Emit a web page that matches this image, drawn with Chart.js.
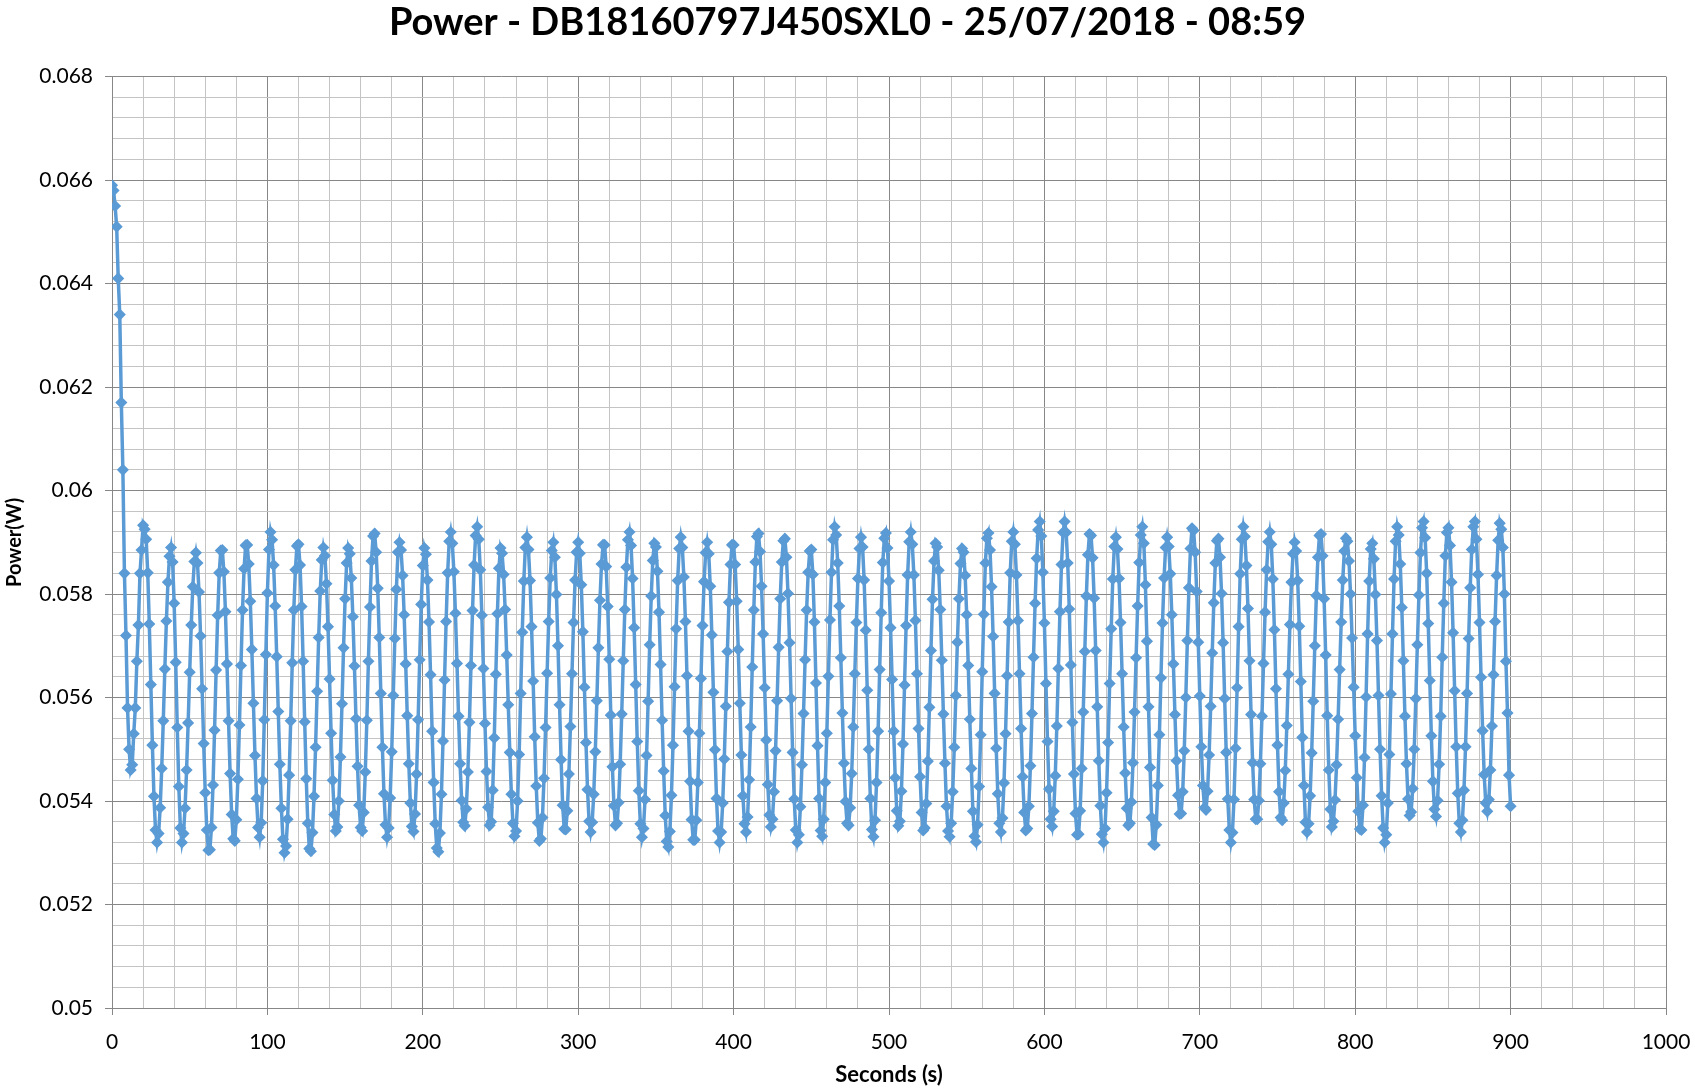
<!DOCTYPE html>
<html><head><meta charset="utf-8">
<script src="https://cdn.jsdelivr.net/npm/chart.js@4/dist/chart.umd.min.js"></script>
<style>html,body{margin:0;padding:0;background:#fff;}canvas{display:block;}</style>
</head><body>
<canvas id="c" width="1695" height="1091"></canvas>
<script>
const chartTitle = 'Power - DB18160797J450SXL0 - 25/07/2018 - 08:59';
const xAxisTitle = 'Seconds (s)';
const yAxisTitle = 'Power(W)';
const xTickLabels = [0, 100, 200, 300, 400, 500, 600, 700, 800, 900, 1000];
const yTickLabels = [0.05, 0.052, 0.054, 0.056, 0.058, 0.06, 0.062, 0.064, 0.066, 0.068];
const sampleStartS = 0;
const sampleStepS = 1;
const powerW = [
0.06590,0.06580,0.06550,0.06510,0.06410,0.06340,0.06170,0.06040,0.05840,0.05720,0.05580,0.05500,0.05460,
0.05470,0.05530,0.05580,0.05670,0.05740,0.05840,0.05885,0.05933,0.05925,
0.05906,0.05841,0.05742,0.05625,0.05508,0.05409,0.05344,0.05320,
0.05337,0.05387,0.05463,0.05555,0.05655,0.05748,0.05823,0.05873,0.05890,
0.05862,0.05782,0.05668,0.05542,0.05428,0.05348,0.05320,
0.05337,0.05386,0.05460,0.05551,0.05649,0.05740,0.05814,0.05863,0.05880,
0.05860,0.05804,0.05719,0.05617,0.05511,0.05416,0.05344,0.05305,
0.05306,0.05349,0.05431,0.05537,0.05653,0.05759,0.05841,0.05884,
0.05885,0.05843,0.05766,0.05665,0.05555,0.05453,0.05374,0.05327,
0.05323,0.05364,0.05442,0.05547,0.05662,0.05769,0.05849,0.05894,
0.05895,0.05858,0.05786,0.05693,0.05589,0.05488,0.05405,0.05349,0.05330,
0.05358,0.05439,0.05557,0.05683,0.05802,0.05886,0.05920,
0.05905,0.05856,0.05777,0.05679,0.05573,0.05471,0.05386,0.05326,0.05300,
0.05313,0.05365,0.05450,0.05555,0.05667,0.05769,0.05847,0.05893,
0.05896,0.05856,0.05776,0.05670,0.05553,0.05443,0.05357,0.05308,
0.05303,0.05339,0.05409,0.05504,0.05612,0.05716,0.05806,0.05866,0.05890,
0.05874,0.05820,0.05737,0.05636,0.05531,0.05440,0.05374,0.05342,
0.05350,0.05400,0.05485,0.05588,0.05696,0.05791,0.05860,0.05889,
0.05878,0.05831,0.05756,0.05661,0.05559,0.05467,0.05392,0.05349,
0.05342,0.05378,0.05456,0.05556,0.05670,0.05775,0.05864,0.05912,
0.05917,0.05881,0.05811,0.05716,0.05608,0.05504,0.05414,0.05354,0.05330,
0.05348,0.05406,0.05495,0.05604,0.05714,0.05809,0.05881,0.05900,
0.05885,0.05836,0.05760,0.05665,0.05565,0.05472,0.05396,0.05351,
0.05341,0.05375,0.05452,0.05557,0.05673,0.05780,0.05855,0.05889,
0.05877,0.05827,0.05746,0.05644,0.05535,0.05436,0.05356,0.05309,
0.05302,0.05338,0.05413,0.05516,0.05634,0.05747,0.05841,0.05902,0.05920,
0.05898,0.05843,0.05763,0.05666,0.05564,0.05472,0.05401,0.05359,
0.05352,0.05385,0.05456,0.05552,0.05662,0.05768,0.05856,0.05913,0.05930,
0.05906,0.05847,0.05759,0.05656,0.05550,0.05457,0.05388,0.05353,
0.05360,0.05421,0.05522,0.05645,0.05762,0.05850,0.05889,
0.05879,0.05838,0.05770,0.05682,0.05586,0.05494,0.05413,0.05357,0.05332,
0.05342,0.05400,0.05490,0.05608,0.05726,0.05825,0.05890,0.05910,
0.05886,0.05826,0.05737,0.05632,0.05524,0.05429,0.05358,0.05323,
0.05327,0.05368,0.05444,0.05542,0.05647,0.05747,0.05831,0.05884,0.05900,
0.05871,0.05799,0.05700,0.05586,0.05480,0.05392,0.05346,
0.05345,0.05381,0.05452,0.05544,0.05646,0.05745,0.05827,0.05881,0.05900,
0.05879,0.05818,0.05727,0.05620,0.05513,0.05422,0.05361,0.05340,
0.05359,0.05413,0.05495,0.05594,0.05696,0.05788,0.05858,0.05895,
0.05895,0.05853,0.05776,0.05674,0.05566,0.05466,0.05391,0.05353,
0.05357,0.05397,0.05471,0.05568,0.05671,0.05770,0.05852,0.05905,0.05920,
0.05894,0.05830,0.05735,0.05625,0.05515,0.05420,0.05356,0.05330,
0.05347,0.05403,0.05488,0.05593,0.05702,0.05796,0.05865,0.05898,
0.05891,0.05844,0.05765,0.05664,0.05556,0.05458,0.05372,0.05322,
0.05311,0.05341,0.05411,0.05508,0.05621,0.05733,0.05826,0.05888,0.05910,
0.05890,0.05833,0.05747,0.05642,0.05535,0.05438,0.05364,0.05325,
0.05325,0.05363,0.05436,0.05531,0.05637,0.05739,0.05824,0.05880,0.05900,
0.05878,0.05815,0.05721,0.05610,0.05499,0.05405,0.05342,0.05320,
0.05340,0.05396,0.05481,0.05583,0.05689,0.05784,0.05857,0.05895,
0.05895,0.05857,0.05786,0.05693,0.05589,0.05489,0.05410,0.05356,
0.05340,0.05369,0.05441,0.05543,0.05659,0.05769,0.05862,0.05911,
0.05917,0.05882,0.05815,0.05723,0.05619,0.05518,0.05432,0.05373,0.05350,
0.05365,0.05418,0.05497,0.05594,0.05697,0.05791,0.05862,0.05903,
0.05907,0.05871,0.05801,0.05706,0.05598,0.05494,0.05404,0.05344,0.05320,
0.05335,0.05389,0.05470,0.05569,0.05673,0.05769,0.05842,0.05883,
0.05886,0.05838,0.05746,0.05628,0.05507,0.05405,0.05343,
0.05332,0.05365,0.05436,0.05531,0.05641,0.05750,0.05842,0.05905,0.05930,
0.05914,0.05860,0.05777,0.05677,0.05570,0.05473,0.05399,0.05357,
0.05353,0.05387,0.05453,0.05543,0.05646,0.05745,0.05830,0.05888,0.05910,
0.05891,0.05827,0.05730,0.05614,0.05500,0.05405,0.05345,
0.05331,0.05363,0.05436,0.05535,0.05654,0.05764,0.05861,0.05908,
0.05918,0.05889,0.05825,0.05735,0.05635,0.05535,0.05445,0.05381,0.05352,
0.05361,0.05419,0.05510,0.05624,0.05739,0.05837,0.05901,0.05920,
0.05896,0.05837,0.05749,0.05646,0.05540,0.05447,0.05378,0.05343,
0.05348,0.05395,0.05477,0.05581,0.05691,0.05790,0.05864,0.05898,
0.05891,0.05846,0.05770,0.05672,0.05568,0.05473,0.05390,0.05342,
0.05331,0.05357,0.05418,0.05504,0.05604,0.05707,0.05791,0.05859,0.05888,
0.05881,0.05836,0.05760,0.05662,0.05558,0.05463,0.05380,0.05332,
0.05321,0.05354,0.05428,0.05528,0.05650,0.05761,0.05860,0.05908,
0.05918,0.05885,0.05814,0.05718,0.05608,0.05502,0.05414,0.05357,
0.05340,0.05367,0.05435,0.05530,0.05642,0.05746,0.05841,0.05902,0.05920,
0.05896,0.05837,0.05749,0.05646,0.05540,0.05447,0.05378,0.05343,
0.05347,0.05390,0.05468,0.05569,0.05678,0.05782,0.05869,0.05924,0.05940,
0.05912,0.05842,0.05744,0.05627,0.05515,0.05423,0.05365,
0.05351,0.05380,0.05449,0.05545,0.05656,0.05766,0.05857,0.05919,0.05940,
0.05919,0.05860,0.05771,0.05663,0.05552,0.05452,0.05376,0.05335,
0.05336,0.05381,0.05463,0.05572,0.05689,0.05796,0.05876,0.05916,
0.05913,0.05870,0.05792,0.05691,0.05582,0.05478,0.05391,0.05336,
0.05320,0.05347,0.05416,0.05513,0.05627,0.05733,0.05829,0.05892,0.05910,
0.05887,0.05830,0.05745,0.05646,0.05543,0.05454,0.05386,0.05353,
0.05357,0.05398,0.05474,0.05572,0.05677,0.05777,0.05861,0.05914,0.05930,
0.05898,0.05818,0.05709,0.05582,0.05465,0.05368,0.05317,
0.05315,0.05354,0.05430,0.05528,0.05638,0.05744,0.05831,0.05890,0.05910,
0.05892,0.05839,0.05760,0.05665,0.05567,0.05478,0.05411,0.05375,
0.05376,0.05418,0.05497,0.05600,0.05710,0.05812,0.05888,0.05927,
0.05923,0.05881,0.05805,0.05707,0.05603,0.05505,0.05430,0.05387,
0.05383,0.05419,0.05489,0.05583,0.05686,0.05783,0.05860,0.05903,
0.05907,0.05871,0.05801,0.05706,0.05598,0.05494,0.05404,0.05344,0.05320,
0.05339,0.05403,0.05502,0.05619,0.05737,0.05839,0.05906,0.05930,
0.05911,0.05855,0.05772,0.05671,0.05567,0.05474,0.05403,0.05365,
0.05365,0.05401,0.05472,0.05564,0.05666,0.05765,0.05847,0.05901,0.05920,
0.05896,0.05829,0.05731,0.05617,0.05508,0.05418,0.05368,
0.05363,0.05396,0.05459,0.05546,0.05645,0.05741,0.05823,0.05878,0.05900,
0.05883,0.05826,0.05738,0.05631,0.05523,0.05430,0.05359,0.05340,
0.05356,0.05410,0.05493,0.05593,0.05700,0.05797,0.05871,0.05913,
0.05916,0.05874,0.05791,0.05682,0.05565,0.05460,0.05384,
0.05350,0.05361,0.05402,0.05470,0.05558,0.05654,0.05746,0.05827,0.05883,0.05908,
0.05902,0.05864,0.05800,0.05715,0.05620,0.05526,0.05445,0.05380,0.05346,
0.05344,0.05392,0.05484,0.05601,0.05723,0.05825,0.05887,
0.05898,0.05868,0.05799,0.05710,0.05604,0.05500,0.05410,0.05348,0.05320,
0.05335,0.05396,0.05490,0.05607,0.05723,0.05829,0.05902,0.05930,
0.05914,0.05858,0.05774,0.05671,0.05564,0.05472,0.05404,0.05372,
0.05379,0.05424,0.05500,0.05598,0.05702,0.05798,0.05880,0.05928,0.05940,
0.05909,0.05840,0.05743,0.05633,0.05526,0.05438,0.05384,
0.05370,0.05401,0.05471,0.05564,0.05678,0.05782,0.05874,0.05919,
0.05928,0.05894,0.05823,0.05725,0.05613,0.05505,0.05415,0.05357,
0.05340,0.05363,0.05421,0.05505,0.05608,0.05714,0.05812,0.05886,0.05930,0.05940,
0.05906,0.05838,0.05745,0.05639,0.05536,0.05451,0.05396,0.05380,
0.05403,0.05460,0.05545,0.05644,0.05747,0.05836,0.05904,0.05937,
0.05925,0.05890,0.05800,0.05670,0.05570,0.05450,0.05390
];

const points = powerW.map((p, i) => ({ x: sampleStartS + i * sampleStepS, y: p }));

const isMajorX = v => Math.round(v) % 100 === 0;
const isMajorY = v => Math.round(v * 10000) % 20 === 0;
const MAJOR = '#878787';
const MINOR = '#c4c4c4';
const FONT = 'Lato, "Open Sans", sans-serif';

new Chart(document.getElementById('c'), {
  type: 'line',
  data: {
    datasets: [{
      label: 'Power',
      data: points,
      borderColor: '#5B9BD5',
      backgroundColor: '#5B9BD5',
      borderWidth: 3.5,
      pointStyle: 'rectRot',
      pointRadius: 5,
      pointBorderWidth: 1.5,
      pointBackgroundColor: '#5B9BD5',
      pointBorderColor: '#5B9BD5',
      tension: 0,
      fill: false
    }]
  },
  options: {
    responsive: false,
    animation: false,
    devicePixelRatio: 1,
    layout: { padding: { left: 0, right: 0, top: 0, bottom: 0 } },
    plugins: {
      legend: { display: false },
      tooltip: { enabled: false },
      title: {
        display: true,
        text: chartTitle,
        color: '#000',
        font: { family: FONT, size: 38, weight: 'bold' },
        padding: { top: 0, bottom: 31 }
      }
    },
    scales: {
      x: {
        type: 'linear',
        min: xTickLabels[0],
        max: xTickLabels[xTickLabels.length - 1],
        afterFit: s => { s.height = 83; s.paddingLeft = 0; s.paddingRight = 0; },
        ticks: {
          stepSize: 20,
          autoSkip: false,
          maxRotation: 0,
          color: '#000',
          padding: 15,
          font: { family: FONT, size: 21 },
          callback: v => (isMajorX(v) && xTickLabels.includes(Math.round(v))) ? String(Math.round(v)) : ''
        },
        grid: {
          color: c => isMajorX(c.tick.value) ? MAJOR : MINOR,
          tickColor: c => isMajorX(c.tick.value) ? MAJOR : 'rgba(0,0,0,0)',
          tickLength: 7,
          lineWidth: 1
        },
        border: { color: MAJOR, width: 1 },
        title: {
          display: true,
          text: xAxisTitle,
          color: '#000',
          font: { family: FONT, size: 22, weight: 'bold' },
          padding: { top: 0, bottom: 3 }
        }
      },
      y: {
        type: 'linear',
        min: yTickLabels[0],
        max: yTickLabels[yTickLabels.length - 1],
        afterFit: s => { s.width = 112; s.paddingTop = 0; s.paddingBottom = 0; },
        ticks: {
          stepSize: 0.0004,
          autoSkip: false,
          color: '#000',
          padding: 12,
          font: { family: FONT, size: 21 },
          callback: v => isMajorY(v) ? String(Math.round(v * 10000) / 10000) : ''
        },
        grid: {
          color: c => isMajorY(c.tick.value) ? MAJOR : MINOR,
          tickColor: c => isMajorY(c.tick.value) ? MAJOR : 'rgba(0,0,0,0)',
          tickLength: 7,
          lineWidth: 1
        },
        border: { color: MAJOR, width: 1 },
        title: {
          display: true,
          text: yAxisTitle,
          color: '#000',
          font: { family: FONT, size: 20, weight: 'bold' },
          padding: { top: 3, bottom: 0 }
        }
      },
      rightMargin: {
        type: 'linear',
        position: 'right',
        display: true,
        afterFit: s => { s.width = 29; s.paddingTop = 0; s.paddingBottom = 0; },
        ticks: { display: false },
        grid: { display: false, drawTicks: false },
        border: { display: false }
      }
    }
  }
});
</script>
</body></html>
